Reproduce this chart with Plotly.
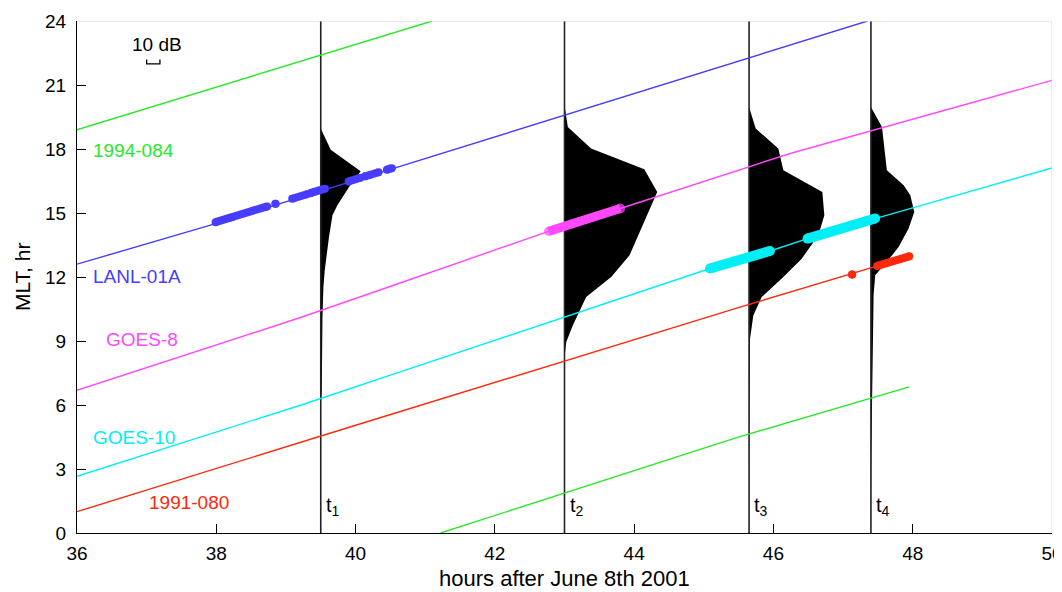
import plotly.graph_objects as go

# ---------------- data ----------------
# satellite MLT trajectories (hours after June 8th 2001, MLT hr)
green_a_t = [36.0, 41.1]
green_a_mlt = [18.9, 24.0]
green_b_t = [41.22, 45.45, 47.95]
green_b_mlt = [0.0, 4.45, 6.85]

blue_t = [36.0, 37.99, 39.54, 47.35]
blue_mlt = [12.6, 14.5, 16.07, 24.0]

magenta_t = [36.0, 39.21, 40.64, 42.77, 43.80, 46.24, 50.0]
magenta_mlt = [6.69, 10.1, 11.72, 14.14, 15.21, 17.79, 21.22]

cyan_t = [36.0, 39.21, 40.64, 45.09, 45.95, 46.49, 47.46, 50.0]
cyan_mlt = [2.66, 5.99, 7.55, 12.40, 13.22, 13.80, 14.74, 17.11]

red_t = [36.0, 39.92, 45.45, 47.03, 47.95]
red_mlt = [1.0, 4.97, 10.52, 12.08, 12.97]

# observation segments (start/end time, start/end MLT)
blue_obs_t0 = [37.99, 38.23, 38.85, 39.09, 39.35, 39.90, 40.14, 40.19, 40.45]
blue_obs_t1 = [38.20, 38.73, 38.85, 39.30, 39.56, 40.07, 40.14, 40.33, 40.52]
blue_obs_m0 = [14.57, 14.81, 15.43, 15.67, 15.93, 16.48, 16.72, 16.77, 17.03]
blue_obs_m1 = [14.78, 15.31, 15.43, 15.88, 16.14, 16.65, 16.72, 16.91, 17.10]

magenta_obs_t = [42.77, 43.30, 43.80]
magenta_obs_m = [14.14, 14.68, 15.21]

cyan_obs_t0 = [45.09, 46.49]
cyan_obs_t1 = [45.95, 47.46]
cyan_obs_m0 = [12.40, 13.80]
cyan_obs_m1 = [13.22, 14.74]

red_obs_t0 = [47.13, 47.49]
red_obs_t1 = [47.13, 47.95]
red_obs_m0 = [12.12, 12.52]
red_obs_m1 = [12.12, 12.97]

# profile times and shapes (MLT, dB)
profile_times = [39.5, 43.0, 45.65, 47.4]
profile_labels = ["1", "2", "3", "4"]
p1_mlt = [18.96, 17.97, 16.96, 16.35, 15.36, 14.9, 13.88, 12.32, 11.53, 10.13, 6.55, 6.08]
p1_db = [0, 7.5, 30, 22.6, 12.5, 8.8, 6.2, 3.0, 2.0, 1.3, 0.75, 0]
p2_mlt = [20.05, 19.03, 18.02, 17.05, 15.99, 15.36, 13.02, 12.0, 11.06, 9.74, 8.95, 8.2]
p2_db = [0, 2.5, 20, 60, 69.7, 65.2, 48.9, 35.1, 16.3, 6.3, 1.3, 0]
p3_mlt = [19.97, 18.96, 18.02, 17.0, 15.99, 14.9, 13.96, 12.86, 11.93, 11.06, 10.2, 9.11, 4.9, 0.0]
p3_db = [0, 5.0, 22.0, 25.8, 55.1, 56.6, 52.1, 39.6, 24.6, 9.5, 3.2, 0.75, 0.2, 0]
p4_mlt = [19.97, 19.03, 17.0, 16.3, 15.83, 15.05, 14.27, 13.41, 12.71, 12.08, 11.14, 6.45, 3.3, 0.0]
p4_db = [0, 8.3, 12.0, 24.6, 29.6, 32.6, 28.3, 20.8, 12.0, 3.2, 2.0, 0.75, 0.2, 0]

sat_names = ["1994-084", "LANL-01A", "GOES-8", "GOES-10", "1991-080"]
sat_label_t = [36.2, 36.2, 36.39, 36.2, 37.0]
sat_label_mlt = [17.94, 12.03, 9.07, 4.49, 1.44]

x_ticks = [36, 38, 40, 42, 44, 46, 48, 50]
y_ticks = [0, 3, 6, 9, 12, 15, 18, 21, 24]
x_title = "hours after June 8th 2001"
y_title = "MLT, hr"

# ---------------- style ----------------
DB_TO_HR = 0.0191  # 10 dB bracket width in hours
GREEN = "rgb(40,232,40)"
BLUE = "rgb(72,60,255)"
MAGENTA = "rgb(255,72,255)"
CYAN = "rgb(0,238,245)"
RED = "rgb(255,40,10)"
FONT = "Liberation Sans, Arial, sans-serif"

fig = go.Figure()

# black profiles
for t0, mlts, dbs in zip(profile_times, [p1_mlt, p2_mlt, p3_mlt, p4_mlt],
                         [p1_db, p2_db, p3_db, p4_db]):
    xs = [t0] + [t0 + d * DB_TO_HR for d in dbs] + [t0]
    ys = [mlts[0]] + mlts + [mlts[-1]]
    fig.add_trace(go.Scatter(x=xs, y=ys, mode="lines", fill="toself",
                             fillcolor="black", line=dict(width=0, color="black"),
                             hoverinfo="skip", showlegend=False))

# vertical time lines
for t0 in profile_times:
    fig.add_trace(go.Scatter(x=[t0, t0], y=[0, 24], mode="lines",
                             line=dict(color="#222222", width=1.6),
                             hoverinfo="skip", showlegend=False))

# trajectories
for xs, ys, c in [(green_a_t, green_a_mlt, GREEN), (green_b_t, green_b_mlt, GREEN),
                  (blue_t, blue_mlt, BLUE), (magenta_t, magenta_mlt, MAGENTA),
                  (cyan_t, cyan_mlt, CYAN), (red_t, red_mlt, RED)]:
    fig.add_trace(go.Scatter(x=xs, y=ys, mode="lines", line=dict(color=c, width=1.4),
                             hoverinfo="skip", showlegend=False))


def seg_trace(t0s, t1s, m0s, m1s, color, w):
    xs, ys = [], []
    for a, b, c, d in zip(t0s, t1s, m0s, m1s):
        xs += [a, b, None]
        ys += [c, d, None]
    return go.Scatter(x=xs, y=ys, mode="lines+markers",
                      line=dict(color=color, width=w),
                      marker=dict(color=color, size=w, line=dict(width=0)),
                      hoverinfo="skip", showlegend=False)


fig.add_trace(seg_trace(blue_obs_t0, blue_obs_t1, blue_obs_m0, blue_obs_m1, BLUE, 8))
fig.add_trace(go.Scatter(x=magenta_obs_t, y=magenta_obs_m, mode="lines+markers",
                         line=dict(color=MAGENTA, width=9),
                         marker=dict(color=MAGENTA, size=[9, 0, 10], line=dict(width=0)),
                         hoverinfo="skip", showlegend=False))
fig.add_trace(seg_trace(cyan_obs_t0, cyan_obs_t1, cyan_obs_m0, cyan_obs_m1, CYAN, 10))
fig.add_trace(seg_trace(red_obs_t0, red_obs_t1, red_obs_m0, red_obs_m1, RED, 8))

# 10 dB scale bracket
bx0 = 37.0
fig.add_trace(go.Scatter(x=[bx0, bx0, bx0 + 10 * DB_TO_HR, bx0 + 10 * DB_TO_HR],
                         y=[22.2, 21.99, 21.99, 22.2], mode="lines",
                         line=dict(color="black", width=1.3),
                         hoverinfo="skip", showlegend=False))

annotations = [dict(x=bx0 + 5 * DB_TO_HR, y=22.9, text="10 dB", showarrow=False,
                    xshift=4, font=dict(size=19, color="black", family=FONT))]
for name, x, y, c in zip(sat_names, sat_label_t, sat_label_mlt,
                         [GREEN, BLUE, MAGENTA, CYAN, RED]):
    annotations.append(dict(x=x, y=y, text=name, showarrow=False, xanchor="left",
                            font=dict(size=19, color=c, family=FONT)))
for t0, lab in zip(profile_times, profile_labels):
    annotations.append(dict(x=t0, y=1.25, text="t<sub>" + lab + "</sub>", showarrow=False,
                            xanchor="left", xshift=3,
                            font=dict(size=20, color="black", family=FONT)))
# axis titles
annotations.append(dict(xref="paper", yref="paper", x=0.5, y=0, yanchor="middle",
                        yshift=-45, text=x_title, showarrow=False,
                        font=dict(size=22, color="black", family=FONT)))
annotations.append(dict(xref="paper", yref="paper", x=0, y=0.5, xanchor="center",
                        xshift=-55, text=y_title, textangle=-90, showarrow=False,
                        font=dict(size=21, color="black", family=FONT)))

# page body has an 8px margin, so the figure is sized to fit the window exactly
fig.update_layout(
    width=1054, height=584,
    margin=dict(l=69, r=10, t=13, b=59),
    paper_bgcolor="white", plot_bgcolor="white",
    font=dict(family=FONT, size=19, color="black"),
    annotations=annotations,
    shapes=[
        dict(type="line", xref="x", yref="y", x0=36, x1=50, y0=24, y1=24,
             line=dict(color="#d6d6d6", width=1)),
        dict(type="line", xref="x", yref="y", x0=50, x1=50, y0=0, y1=24,
             line=dict(color="#d6d6d6", width=1)),
    ],
    xaxis=dict(range=[36, 50], tickvals=x_ticks, ticks="inside", ticklen=9,
               tickwidth=1.3, tickcolor="black", showline=True, linecolor="black",
               linewidth=1.3, showgrid=False, zeroline=False, automargin=False,
               ticklabeloverflow="allow",
               tickfont=dict(size=19, family=FONT), ticklabelstandoff=3),
    yaxis=dict(range=[0, 24], tickvals=y_ticks, ticks="inside", ticklen=9,
               tickwidth=1.3, tickcolor="black", showline=True, linecolor="black",
               linewidth=1.3, showgrid=False, zeroline=False, automargin=False,
               ticklabeloverflow="allow",
               tickfont=dict(size=19, family=FONT), ticklabelstandoff=6),
)

fig.write_html("out.html")
